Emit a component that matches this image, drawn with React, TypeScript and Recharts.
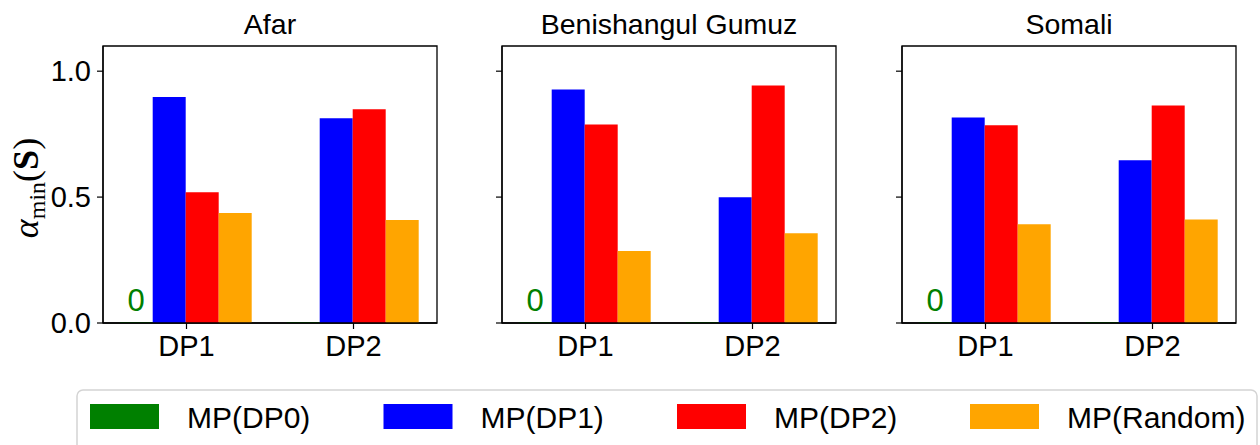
import React from 'react'
import {
  BarChart,
  Bar,
  XAxis,
  YAxis,
  LabelList,
  ReferenceArea,
} from 'recharts'

// values, one row per region, [DP1, DP2]
const categories = ['DP1', 'DP2']
const regions = ['Afar', 'Benishangul Gumuz', 'Somali']
const mpDP0 = [[0, 0], [0, 0], [0, 0]]
const mpDP1 = [[0.897, 0.813], [0.927, 0.499], [0.816, 0.646]]
const mpDP2 = [[0.519, 0.849], [0.788, 0.943], [0.785, 0.864]]
const mpRandom = [[0.437, 0.409], [0.286, 0.356], [0.392, 0.411]]
const zeroLabels = ['0', '']
const yTicks = [0, 0.5, 1.0]
const seriesNames = ['MP(DP0)', 'MP(DP1)', 'MP(DP2)', 'MP(Random)']

const colors = ['#008000', '#0000ff', '#ff0000', '#ffa500']
const FONT = '"Liberation Sans", Arial, sans-serif'
const plotLefts = [103, 502, 902]
const PLOT_W = 334
const Y_AXIS_W = 80

const axisStyle = { stroke: '#000', strokeWidth: 1.3 }

const renderZero = (props: any) => {
  const vb = props.viewBox || {}
  const x = Number(props.x ?? vb.x)
  const y = Number(props.y ?? vb.y)
  const width = Number(props.width ?? vb.width)
  const height = Number(props.height ?? vb.height ?? 0)
  const { value } = props
  if (!value || Number.isNaN(x) || Number.isNaN(y)) return null
  // top of the bar (height can be reported negative)
  const top = Math.min(y, y + height)
  return (
    <text
      x={x + width / 2}
      y={top - 11}
      textAnchor="middle"
      fill="#008000"
      fontSize={31}
      fontFamily={FONT}
    >
      {value}
    </text>
  )
}

function Panel({ index }: { index: number }) {
  const rows = categories.map((cat, i) => ({
    cat,
    dp0: mpDP0[index][i],
    dp1: mpDP1[index][i],
    dp2: mpDP2[index][i],
    random: mpRandom[index][i],
    lab: zeroLabels[i],
  }))
  const showYLabels = index === 0

  return (
    <div style={{ position: 'absolute', left: plotLefts[index] - Y_AXIS_W, top: 0 }}>
      <BarChart
        width={Y_AXIS_W + PLOT_W + 4}
        height={445}
        data={rows}
        margin={{ top: 46, right: 4, bottom: 82, left: 0 }}
        barCategoryGap="10%"
        barGap={0}
      >
        <XAxis
          dataKey="cat"
          height={40}
          interval={0}
          tickSize={6}
          tickMargin={6}
          tick={{ fontSize: 29, fill: '#000', fontFamily: FONT }}
          axisLine={axisStyle}
          tickLine={{ stroke: '#000', strokeWidth: 1.2 }}
        />
        <YAxis
          domain={[0, 1.1]}
          ticks={yTicks}
          width={Y_AXIS_W}
          tickSize={6}
          tickMargin={6}
          tickFormatter={(v: number) => (showYLabels ? v.toFixed(1) : '')}
          tick={{ fontSize: 29, fill: '#000', fontFamily: FONT }}
          axisLine={axisStyle}
          tickLine={{ stroke: '#000', strokeWidth: 1.2 }}
        />
        <ReferenceArea
          y1={0}
          y2={1.1}
          fill="none"
          fillOpacity={0}
          stroke="#000"
          strokeWidth={1.3}
          ifOverflow="visible"
        />
        <Bar dataKey="dp0" fill={colors[0]} minPointSize={1} isAnimationActive={false}>
          <LabelList dataKey="lab" content={renderZero} />
        </Bar>
        <Bar dataKey="dp1" fill={colors[1]} isAnimationActive={false} />
        <Bar dataKey="dp2" fill={colors[2]} isAnimationActive={false} />
        <Bar dataKey="random" fill={colors[3]} isAnimationActive={false} />
      </BarChart>
    </div>
  )
}

export default function App() {
  const legendX = [90, 383.5, 677, 970]

  return (
    <div style={{ position: 'absolute', left: 0, top: 0, width: 1260, height: 445, background: '#fff', overflow: 'hidden' }}>
      {regions.map((r, i) => <Panel key={r} index={i} />)}
      <svg
        width={1260}
        height={445}
        style={{ position: 'absolute', left: 0, top: 0, pointerEvents: 'none' }}
      >
        {regions.map((r, i) => (
          <text
            key={r}
            x={plotLefts[i] + PLOT_W / 2}
            y={34}
            textAnchor="middle"
            fontSize={28.5}
            fontFamily={FONT}
            fill="#000"
          >
            {r}
          </text>
        ))}
        <text
          transform="translate(38,188) rotate(-90)"
          textAnchor="middle"
          fontFamily='"Liberation Serif", "DejaVu Serif", serif'
          fontSize={36}
          fill="#000"
        >
          <tspan fontStyle="italic">α</tspan>
          <tspan fontSize={24} dy={7}>min</tspan>
          <tspan dy={-7}>(</tspan>
          <tspan fontWeight="bold">S</tspan>
          <tspan>)</tspan>
        </text>
        <rect x={77} y={390} width={1180} height={90} rx={6} fill="#fff" stroke="#d4d4d4" strokeWidth={1.5} />
        {seriesNames.map((name, i) => (
          <g key={name}>
            <rect x={legendX[i]} y={404} width={69} height={25} fill={colors[i]} />
            <text x={legendX[i] + 97} y={428} fontSize={30} fontFamily={FONT} fill="#000">
              {name}
            </text>
          </g>
        ))}
      </svg>
    </div>
  )
}
